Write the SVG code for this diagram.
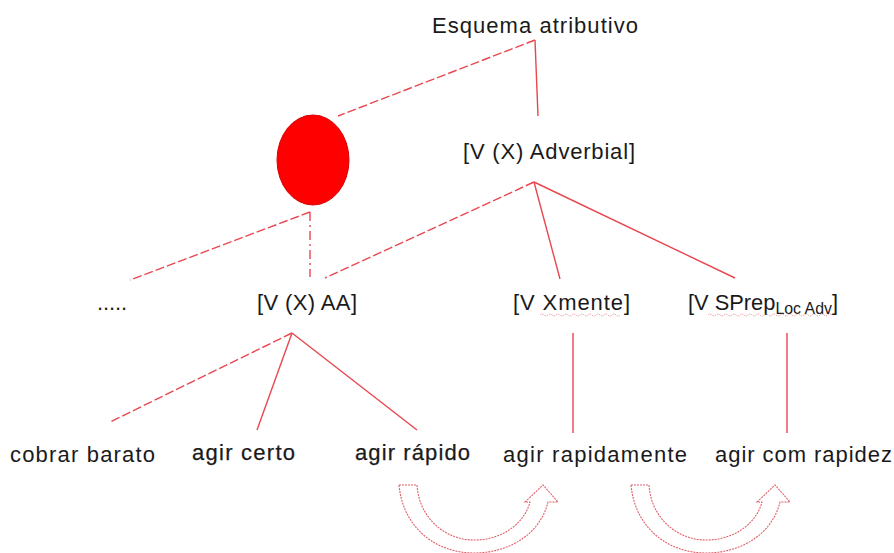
<svg xmlns="http://www.w3.org/2000/svg" width="894" height="553" viewBox="0 0 894 553">
<style>
.t{font-family:"Liberation Sans",Arial,sans-serif;font-size:22px;fill:#1a1a1a}
.sub{font-size:16px}
.ln{stroke:#e8474f;stroke-width:1.4;fill:none}
.dash{stroke-dasharray:9 3}
.dd{stroke-dasharray:9 4 2 4}
.arr{fill:#fff;stroke:#e0606a;stroke-width:1.1;stroke-dasharray:2 1}
.wavy{stroke:#e07070;stroke-width:0.8;fill:none;stroke-dasharray:1 1}
.bd{stroke:#1a1a1a;stroke-width:0.25}
</style>
<defs>
<path id="uarrow" d="M399,485 L417,485 C419,518 445,540 474,540 C502,540 524,524 530,502 L525,502 L543,485 L558,502 L548,502 C540,535 508,553 474,553 C436,553 403,528 399,485 Z"/>
</defs>
<rect width="894" height="553" fill="#fff"/>
<g id="connectors">
<line class="ln dash" x1="535" y1="40" x2="338" y2="116"/>
<line class="ln" x1="535" y1="40" x2="538" y2="116"/>
<line class="ln dash" x1="534" y1="182" x2="325" y2="278"/>
<line class="ln" x1="534" y1="182" x2="560" y2="279"/>
<line class="ln" x1="534" y1="182" x2="735" y2="278"/>
<line class="ln dd" x1="310" y1="212" x2="310" y2="277"/>
<line class="ln dash" x1="310" y1="212" x2="130" y2="280"/>
<line class="ln dash" x1="292" y1="333" x2="110" y2="422"/>
<line class="ln" x1="292" y1="333" x2="257" y2="430"/>
<line class="ln" x1="292" y1="333" x2="417" y2="430"/>
<line class="ln" x1="573" y1="333" x2="573" y2="433"/>
<line class="ln" x1="787" y1="333" x2="787" y2="433"/>
<use href="#uarrow" class="arr"/>
<use href="#uarrow" class="arr" transform="translate(232,0)"/>
</g>
<g id="root"><text class="t" x="432" y="33" textLength="206">Esquema atributivo</text></g>
<g id="ellipse"><ellipse cx="313" cy="160" rx="36" ry="45" fill="#ff0000" stroke="#d80000" stroke-width="1"/></g>
<g id="adverbial"><text class="t" x="463" y="159" textLength="172">[V (X) Adverbial]</text></g>
<g id="dots"><text class="t" x="97" y="310" textLength="30">.....</text></g>
<g id="vxaa"><text class="t" x="257" y="310" textLength="100">[V (X) AA]</text></g>
<g id="xmente"><text class="t" x="513" y="310" textLength="117">[V Xmente]</text>
<path class="wavy" d="M540,315 q2,-2 4,0 t4,0 t4,0 t4,0 t4,0 t4,0 t4,0 t4,0 t4,0 t4,0 t4,0 t4,0 t4,0 t4,0 t4,0 t4,0 t4,0 t4,0 t4,0 t4,0"/></g>
<g id="sprep"><text class="t" x="688" y="310" textLength="150" lengthAdjust="spacingAndGlyphs">[V SPrep<tspan class="sub" dy="4">Loc Adv</tspan><tspan dy="-4">]</tspan></text>
<path class="wavy" d="M708,315 q2,-2 4,0 t4,0 t4,0 t4,0 t4,0 t4,0 t4,0 t4,0 t4,0 t4,0 t4,0 t4,0 t4,0 t4,0 t4,0 t4,0 t4,0 t4,0 t4,0 t4,0 t4,0 t4,0 t4,0 t4,0 t4,0 t4,0 t4,0 t4,0 t4,0 t4,0 t4,0"/></g>
<g id="cobrar"><text class="t" x="10" y="462" textLength="145">cobrar barato</text></g>
<g id="certo"><text class="t bd" x="192" y="460" textLength="103">agir certo</text></g>
<g id="rapido"><text class="t bd" x="355" y="460" textLength="115">agir rápido</text></g>
<g id="rapidamente"><text class="t" x="503" y="462" textLength="184">agir rapidamente</text></g>
<g id="rapidez"><text class="t" x="715" y="462" textLength="177">agir com rapidez</text></g>
</svg>
